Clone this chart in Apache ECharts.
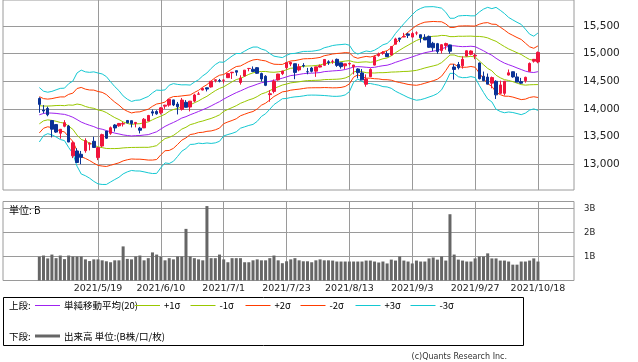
<!DOCTYPE html>
<html><head><meta charset="utf-8">
<script src="https://cdn.jsdelivr.net/npm/echarts@6/dist/echarts.min.js"></script>
<style>html,body{margin:0;padding:0;background:#fff;}#c{width:638px;height:362px;}</style>
</head><body><div id="c"></div>
<script>
const dates = ["2021/4/29","2021/4/30","2021/5/3","2021/5/4","2021/5/5","2021/5/6","2021/5/7","2021/5/10","2021/5/11","2021/5/12",
"2021/5/13","2021/5/14","2021/5/17","2021/5/18","2021/5/19","2021/5/20","2021/5/21","2021/5/24","2021/5/25","2021/5/26",
"2021/5/27","2021/5/28","2021/6/1","2021/6/2","2021/6/3","2021/6/4","2021/6/7","2021/6/8","2021/6/9","2021/6/10",
"2021/6/11","2021/6/14","2021/6/15","2021/6/16","2021/6/17","2021/6/18","2021/6/21","2021/6/22","2021/6/23","2021/6/24",
"2021/6/25","2021/6/28","2021/6/29","2021/6/30","2021/7/1","2021/7/2","2021/7/6","2021/7/7","2021/7/8","2021/7/9",
"2021/7/12","2021/7/13","2021/7/14","2021/7/15","2021/7/16","2021/7/19","2021/7/20","2021/7/21","2021/7/22","2021/7/23",
"2021/7/26","2021/7/27","2021/7/28","2021/7/29","2021/7/30","2021/8/2","2021/8/3","2021/8/4","2021/8/5","2021/8/6",
"2021/8/9","2021/8/10","2021/8/11","2021/8/12","2021/8/13","2021/8/16","2021/8/17","2021/8/18","2021/8/19","2021/8/20",
"2021/8/23","2021/8/24","2021/8/25","2021/8/26","2021/8/27","2021/8/30","2021/8/31","2021/9/1","2021/9/2","2021/9/3",
"2021/9/7","2021/9/8","2021/9/9","2021/9/10","2021/9/13","2021/9/14","2021/9/15","2021/9/16","2021/9/17","2021/9/20",
"2021/9/21","2021/9/22","2021/9/23","2021/9/24","2021/9/27","2021/9/28","2021/9/29","2021/9/30","2021/10/1","2021/10/4",
"2021/10/5","2021/10/6","2021/10/7","2021/10/8","2021/10/11","2021/10/12","2021/10/13","2021/10/14","2021/10/15","2021/10/18"];

const opens = [14190,13980,14009,13790,13718,13561,13687,13690,13153,13240,
13180,13245,13364,13415,13121,13330,13600,13560,13710,13696,
13727,13792,13788,13738,13653,13658,13783,13949,13955,13930,
14051,14070,14164,14089,13993,14120,14035,14142,14266,14342,
14383,14398,14514,14515,14518,14566,14655,14692,14479,14596,
14731,14718,14746,14640,14591,14260,14318,14525,14638,14747,
14812,14818,14706,14786,14674,14740,14684,14758,14790,14853,
14859,14897,14834,14780,14815,14764,14723,14652,14447,14584,
14793,14964,15009,14999,14975,15171,15281,15302,15356,15300,
15373,15342,15296,15312,15187,15180,15056,15147,15158,14758,
14804,14780,14956,14989,14958,14831,14592,14576,14467,14500,
14283,14283,14613,14673,14579,14494,14511,14681,14864,14851];

const highs = [14211,14070,14043,13800,13720,13637,13798,13712,13419,13290,
13241,13470,13394,13498,13311,13553,13600,13682,13726,13747,
13765,13798,13791,13766,13676,13836,13893,13990,13977,14033,
14075,14174,14166,14127,14199,14160,14145,14275,14309,14386,
14386,14505,14535,14544,14537,14643,14670,14694,14609,14704,
14741,14769,14757,14657,14611,14340,14533,14634,14690,14840,
14855,14820,14815,14828,14742,14760,14762,14804,14896,14880,
14891,14912,14834,14816,14836,14796,14736,14722,14625,14735,
14970,15019,15044,15045,15133,15288,15287,15376,15374,15391,
15403,15342,15352,15327,15214,15194,15172,15198,15163,14811,
14850,14951,15060,15059,15002,14839,14676,14641,14586,14520,
14512,14505,14714,14676,14647,14562,14584,14841,14904,15040];

const lows = [13931,13920,13868,13485,13567,13462,13669,13400,13112,13028,
13002,13209,13250,13302,13075,13310,13458,13532,13591,13678,
13683,13740,13666,13668,13558,13654,13782,13876,13896,13901,
14002,14041,14052,13901,13970,14027,13956,14121,14264,14335,
14317,14385,14480,14481,14463,14559,14543,14600,14440,14583,
14681,14665,14632,14497,14413,14130,14283,14513,14612,14716,
14774,14538,14681,14750,14627,14661,14580,14750,14781,14797,
14817,14761,14730,14722,14787,14625,14556,14523,14402,14577,
14788,14946,14980,14944,14965,15170,15208,15297,15282,15291,
15334,15199,15247,15107,15045,14997,15003,15071,14998,14530,
14715,14729,14948,14971,14900,14534,14502,14447,14373,14181,
14271,14243,14605,14565,14486,14453,14476,14680,14838,14826];

const closes = [14083,13963,13895,13634,13582,13633,13752,13402,13389,13032,
13125,13430,13379,13304,13300,13536,13471,13661,13657,13738,
13736,13749,13736,13756,13615,13814,13882,13925,13912,14020,
14069,14174,14073,14040,14161,14030,14141,14253,14272,14370,
14360,14501,14528,14504,14522,14639,14664,14665,14560,14702,
14733,14678,14645,14543,14427,14275,14499,14632,14685,14837,
14841,14661,14763,14778,14673,14681,14761,14781,14895,14836,
14860,14788,14765,14816,14823,14794,14656,14526,14542,14715,
14943,14991,15020,14946,15130,15266,15259,15309,15331,15364,
15374,15287,15248,15115,15106,15038,15162,15182,15044,14714,
14746,14897,15052,15048,14970,14547,14512,14449,14567,14255,
14434,14502,14654,14580,14486,14466,14572,14823,14897,15022];

// volume, unit: B
const volumes = [0.99,1.04,0.92,1.08,0.93,1.04,0.89,1.04,1.00,1.00,
1.00,0.88,0.81,0.88,0.88,0.84,0.80,0.76,0.84,0.84,
1.42,0.90,0.88,1.00,1.04,0.84,0.93,1.17,1.08,0.99,
0.84,0.93,0.88,1.00,1.00,2.15,1.00,0.93,0.88,0.84,
3.10,0.93,0.93,1.08,0.88,0.76,0.93,0.93,0.93,0.76,
0.76,0.84,0.88,0.84,0.84,0.93,1.04,0.84,0.72,0.80,
0.88,0.93,0.84,0.80,0.80,0.76,0.84,0.88,0.84,0.84,
0.83,0.79,0.79,0.79,0.79,0.79,0.79,0.79,0.83,0.83,
0.79,0.75,0.79,0.71,0.87,0.83,1.00,0.83,0.79,0.71,
0.83,0.79,0.79,0.92,0.96,0.87,1.00,0.83,2.76,1.08,
0.87,0.83,0.79,0.79,0.92,1.00,1.00,1.13,0.92,0.92,
0.83,0.83,0.79,0.66,0.66,0.79,0.79,0.83,0.92,0.79];

// 20-day simple moving average (centre line)
const ma20 = [13895,13919,13928,13925,13920,13910,13902,13880,13850,13808,
13763,13732,13705,13681,13648,13634,13610,13586,13564,13548,
13531,13520,13512,13518,13520,13529,13536,13562,13588,13637,
13685,13722,13756,13793,13836,13861,13895,13924,13955,13986,
14018,14055,14095,14132,14178,14219,14258,14295,14327,14361,
14395,14420,14448,14474,14487,14499,14517,14536,14557,14580,
14604,14612,14624,14638,14645,14647,14652,14658,14675,14681,
14688,14693,14699,14713,14733,14759,14766,14761,14754,14748,
14753,14769,14782,14791,14814,14843,14868,14894,14916,14942,
14968,14993,15017,15032,15046,15058,15084,15116,15142,15142,
15132,15127,15129,15134,15126,15090,15052,15009,14971,14916,
14869,14829,14800,14773,14742,14713,14684,14666,14659,14674];

// band width (one sigma)
const sd20 = [164,134,125,131,142,154,158,192,218,281,
313,313,319,330,334,333,325,302,280,261,
235,219,208,213,214,222,230,243,251,233,
220,236,234,217,200,192,179,187,191,204,
211,226,236,239,222,227,233,236,225,228,
231,233,224,203,191,168,146,135,124,130,
132,131,133,134,132,132,134,137,144,148,
153,155,155,153,140,92,75,87,98,96,
103,113,126,131,147,174,195,216,236,254,
270,275,276,272,268,260,246,211,166,166,
183,187,187,183,186,221,251,276,281,307,
305,299,285,279,275,272,253,229,219,233];

const dateTickIdx = [14,29,44,59,74,89,104,119];
const priceTicks = [13000,13500,14000,14500,15000,15500];
const volTicks = [1,2,3];
const bandNames = ['単純移動平均(20)','+1σ','-1σ','+2σ','-2σ','+3σ','-3σ'];
const bandK = [0,1,-1,2,-2,3,-3];

// ---- styles ----
const UP = '#f0143c', DOWN = '#0a3296';
const bandColors = ['#9f22f0','#99c800','#99c800','#ff3c00','#ff3c00','#14c8d2','#14c8d2'];
const GRIDC = '#9a9a9a';
const FONT = '"DejaVu Sans", sans-serif';
const CJK = '"Noto Sans CJK JP", sans-serif';
const xMin = -8.67, xMax = 127.6;

const idx = dates.map((_, i) => i);

const series = [];
bandNames.forEach((nm, b) => {
  series.push({
    type: 'line', name: nm, xAxisIndex: 0, yAxisIndex: 0,
    data: idx.map(i => [i, ma20[i] + bandK[b] * sd20[i]]),
    showSymbol: false, symbol: 'none', silent: true, z: 2,
    lineStyle: { color: bandColors[b], width: 1 }
  });
});
series.push({
  type: 'candlestick', name: 'OHLC', xAxisIndex: 0, yAxisIndex: 0,
  data: idx.map(i => [i, opens[i], closes[i], lows[i], highs[i]]),
  encode: { x: 0, y: [1, 2, 3, 4] },
  barWidth: 3, z: 3,
  itemStyle: { color: UP, color0: DOWN, borderColor: UP, borderColor0: DOWN, borderWidth: 1 }
});
series.push({
  type: 'bar', name: '出来高', xAxisIndex: 1, yAxisIndex: 1,
  data: idx.map(i => [i, volumes[i]]),
  barWidth: 3, itemStyle: { color: '#666666' }
});

// legend (graphic)
const legendLineX = [35,135,190.5,245.5,300.5,355.5,410.5];
const graphic = [
  { type: 'rect', shape: { x: 3.5, y: 297.5, width: 520, height: 48 }, style: { fill: 'none', stroke: '#000', lineWidth: 1 } },
  { type: 'text', x: 9, y: 305, style: { text: '上段:', fontFamily: CJK, fontSize: 9.5, fill: '#000', verticalAlign: 'middle' } },
  { type: 'text', x: 9, y: 336, style: { text: '下段:', fontFamily: CJK, fontSize: 9.5, fill: '#000', verticalAlign: 'middle' } },
  { type: 'line', shape: { x1: 35, y1: 336, x2: 60, y2: 336 }, style: { stroke: '#666666', lineWidth: 3 } },
  { type: 'text', x: 64, y: 336, style: { text: '出来高 単位:(B株/口/枚)', fontFamily: CJK, fontSize: 9.5, fill: '#000', verticalAlign: 'middle' } },
  { type: 'text', x: 9, y: 210, style: { text: '単位: B', fontFamily: CJK, fontSize: 10, fill: '#000', verticalAlign: 'middle' } },
  { type: 'text', x: 507, y: 357, style: { text: '(c)Quants Research Inc.', fontFamily: FONT, fontSize: 8, fill: '#333', align: 'right', verticalAlign: 'middle' } }
];
bandNames.forEach((nm, b) => {
  const x0 = legendLineX[b];
  graphic.push({ type: 'line', shape: { x1: x0, y1: 305.5, x2: x0 + 25, y2: 305.5 }, style: { stroke: bandColors[b], lineWidth: 1 } });
  graphic.push({ type: 'text', x: x0 + 29, y: 305, style: { text: nm, fontFamily: CJK, fontSize: 9.5, fill: '#000', verticalAlign: 'middle' } });
});

const chart = echarts.init(document.getElementById('c'), null, { renderer: 'canvas' });
chart.setOption({
  animation: false,
  backgroundColor: '#ffffff',
  grid: [
    { left: 3, top: 0, width: 571, height: 190, show: true, borderColor: GRIDC, borderWidth: 1, backgroundColor: 'transparent' },
    { left: 3, top: 201.5, width: 571, height: 79, show: true, borderColor: GRIDC, borderWidth: 1, backgroundColor: 'transparent' }
  ],
  xAxis: [
    { type: 'value', gridIndex: 0, min: xMin, max: xMax,
      axisLine: { show: false }, axisLabel: { show: false },
      axisTick: { show: false, customValues: dateTickIdx },
      splitLine: { show: true, lineStyle: { color: GRIDC, width: 1 } } },
    { type: 'value', gridIndex: 1, min: xMin, max: xMax,
      axisLine: { show: false },
      axisTick: { show: false, customValues: dateTickIdx },
      axisLabel: { show: true, customValues: dateTickIdx, formatter: v => dates[Math.round(v)], fontFamily: FONT, fontSize: 9.5, color: '#222', margin: 3 },
      splitLine: { show: true, lineStyle: { color: GRIDC, width: 1 } } }
  ],
  yAxis: [
    { type: 'value', gridIndex: 0, position: 'right', min: 12535, max: 15970,
      axisLine: { show: false },
      axisTick: { show: true, customValues: priceTicks, length: 5, lineStyle: { color: GRIDC } },
      axisLabel: { customValues: priceTicks, formatter: v => Number(v).toLocaleString('en-US'), fontFamily: FONT, fontSize: 10.5, color: '#222', margin: 9 },
      splitLine: { show: true, lineStyle: { color: GRIDC, width: 1 } } },
    { type: 'value', gridIndex: 1, position: 'right', min: 0, max: 3.29,
      axisLine: { show: false },
      axisTick: { show: true, customValues: volTicks, length: 5, lineStyle: { color: GRIDC } },
      axisLabel: { customValues: volTicks, formatter: v => Math.round(v) + 'B', fontFamily: FONT, fontSize: 8.5, color: '#222', margin: 10 },
      splitLine: { show: true, lineStyle: { color: GRIDC, width: 1 } } }
  ],
  graphic: graphic,
  series: series
});
</script>
</body></html>
